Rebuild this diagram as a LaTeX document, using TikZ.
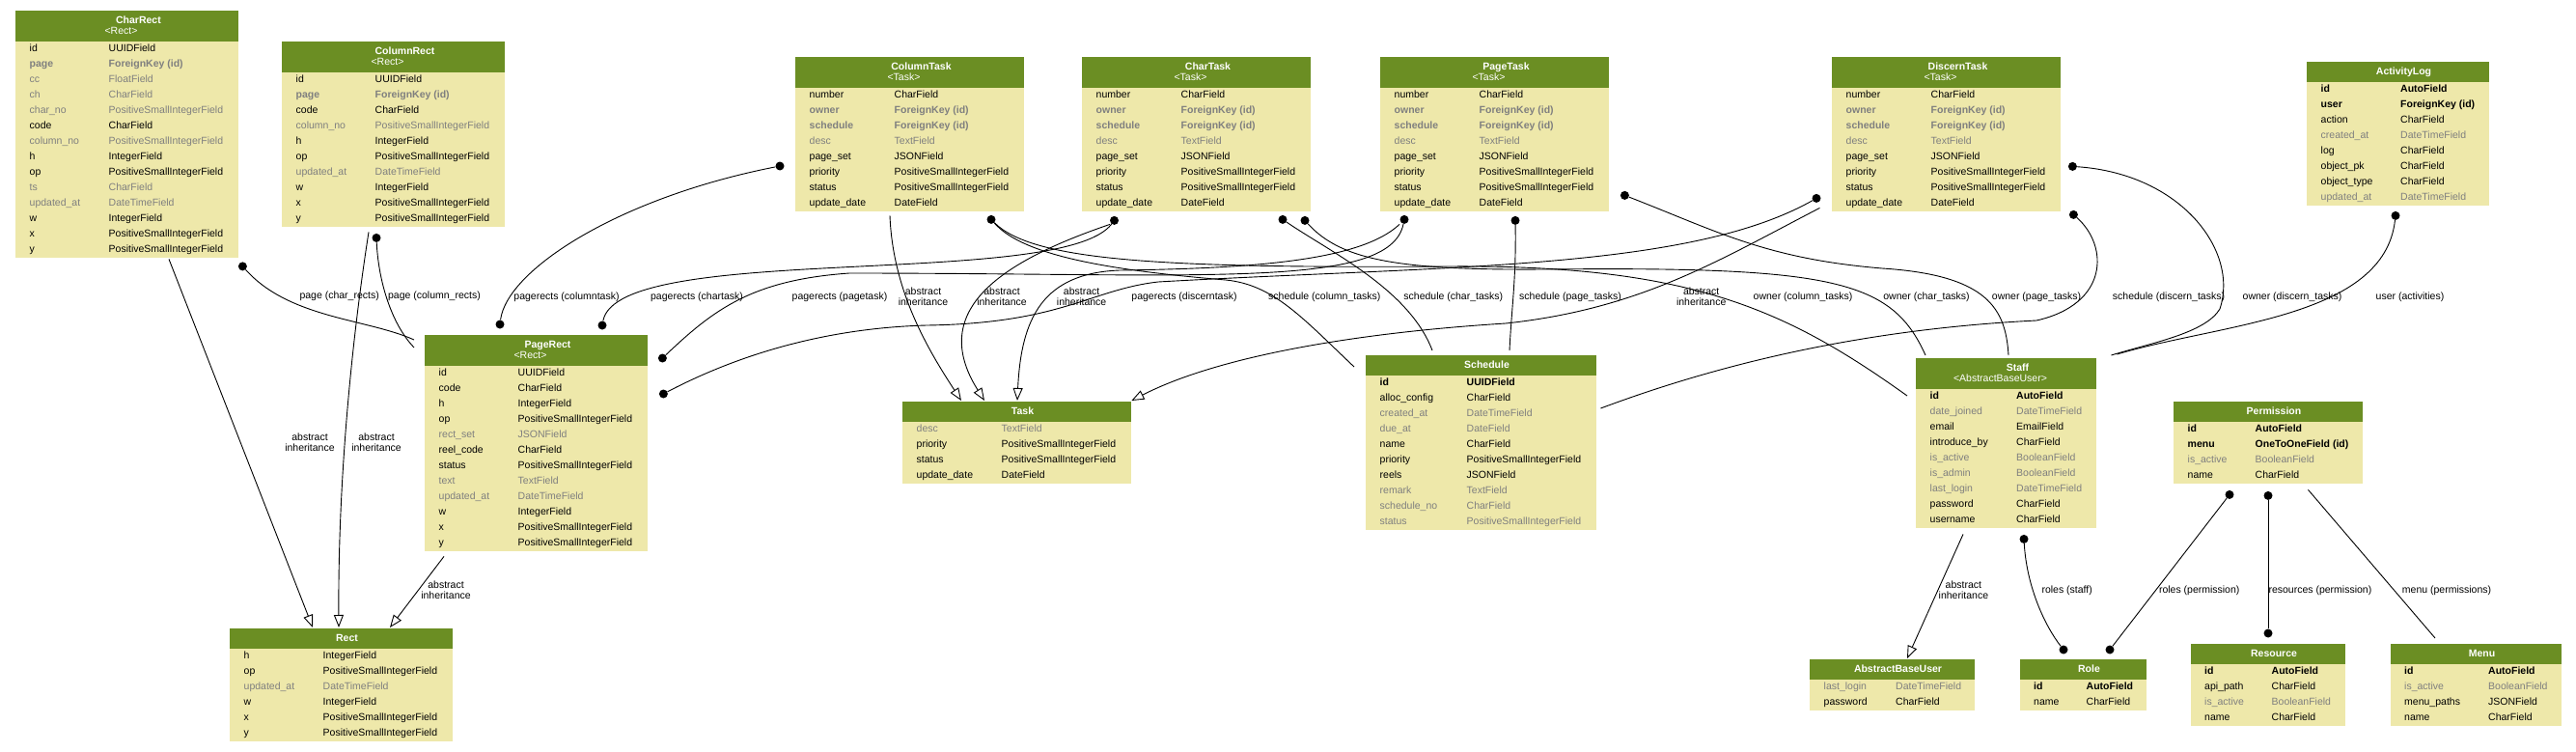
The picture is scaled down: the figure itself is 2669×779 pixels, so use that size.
\documentclass[tikz,border=0pt]{standalone}
\usepackage{fontspec}
\setmainfont{Liberation Sans}
\usepackage{xcolor}
\usepackage{tikz}
\usetikzlibrary{calc,arrows.meta}
\definecolor{headgreen}{HTML}{6B8E23}
\definecolor{bodyyellow}{HTML}{EEE8AA}
\definecolor{fieldgray}{HTML}{7F7F7F}
\begin{document}
\begin{tikzpicture}[x=1pt,y=-1pt]
\tikzstyle{every node}+=[inner sep=0pt, font=\fontsize{10.5}{11}\selectfont]
\tikzstyle{mbox}=[fill=bodyyellow, anchor=north west]
\tikzstyle{mhead}=[fill=headgreen, anchor=north west]
\tikzstyle{mtitle}=[anchor=base, text=white, font=\fontsize{10.5}{11}\selectfont\bfseries]
\tikzstyle{msub}=[anchor=base, text=white]
\tikzstyle{fld}=[anchor=base west, text=black]
\tikzstyle{fldg}=[anchor=base west, text=fieldgray]
\tikzstyle{fldfk}=[fldg, font=\fontsize{10.5}{11}\selectfont\bfseries]
\tikzstyle{fldkey}=[fld, font=\fontsize{10.5}{11}\selectfont\bfseries]
\tikzstyle{link}=[black, line width=0.9pt]
\tikzstyle{inh}=[-{Triangle[open,length=13pt,width=10pt]}]
\tikzstyle{fkdot}=[circle, fill=black, minimum size=9pt]
\tikzstyle{lbl}=[align=center]
\useasboundingbox (0,0) rectangle (2669,779);

\begin{scope}[shift={(16,11)}]
\node [mbox, minimum width=231pt, minimum height=256pt] (charrect) at (0,0) {};
\node [mhead, minimum width=231pt, minimum height=32pt] (charrect-h) at (0,0) {};
\node [mtitle] (charrect-t) at (127.5,13.5) {CharRect};
\node [msub] (charrect-s) at (109.5,24.5) {<Rect>};
\foreach \f/\t/\s [count=\i from 0] in {id/UUIDField/fld, page/ForeignKey (id)/fldfk, cc/FloatField/fldg, ch/CharField/fldg, char\_no/PositiveSmallIntegerField/fldg, code/CharField/fld, column\_no/PositiveSmallIntegerField/fldg, h/IntegerField/fld, op/PositiveSmallIntegerField/fld, ts/CharField/fldg, updated\_at/DateTimeField/fldg, w/IntegerField/fld, x/PositiveSmallIntegerField/fld, y/PositiveSmallIntegerField/fld}
{\node [\s] (charrect-a\i) at (14.5,42.5+16*\i) {\f};
 \node [\s] (charrect-b\i) at (96.5,42.5+16*\i) {\t};}
\end{scope}

\begin{scope}[shift={(292,43)}]
\node [mbox, minimum width=231pt, minimum height=192pt] (columnrect) at (0,0) {};
\node [mhead, minimum width=231pt, minimum height=32pt] (columnrect-h) at (0,0) {};
\node [mtitle] (columnrect-t) at (127.5,13.5) {ColumnRect};
\node [msub] (columnrect-s) at (109.5,24.5) {<Rect>};
\foreach \f/\t/\s [count=\i from 0] in {id/UUIDField/fld, page/ForeignKey (id)/fldfk, code/CharField/fld, column\_no/PositiveSmallIntegerField/fldg, h/IntegerField/fld, op/PositiveSmallIntegerField/fld, updated\_at/DateTimeField/fldg, w/IntegerField/fld, x/PositiveSmallIntegerField/fld, y/PositiveSmallIntegerField/fld}
{\node [\s] (columnrect-a\i) at (14.5,42.5+16*\i) {\f};
 \node [\s] (columnrect-b\i) at (96.5,42.5+16*\i) {\t};}
\end{scope}

\begin{scope}[shift={(440,347)}]
\node [mbox, minimum width=231pt, minimum height=224pt] (pagerect) at (0,0) {};
\node [mhead, minimum width=231pt, minimum height=32pt] (pagerect-h) at (0,0) {};
\node [mtitle] (pagerect-t) at (127.5,13.5) {PageRect};
\node [msub] (pagerect-s) at (109.5,24.5) {<Rect>};
\foreach \f/\t/\s [count=\i from 0] in {id/UUIDField/fld, code/CharField/fld, h/IntegerField/fld, op/PositiveSmallIntegerField/fld, rect\_set/JSONField/fldg, reel\_code/CharField/fld, status/PositiveSmallIntegerField/fld, text/TextField/fldg, updated\_at/DateTimeField/fldg, w/IntegerField/fld, x/PositiveSmallIntegerField/fld, y/PositiveSmallIntegerField/fld}
{\node [\s] (pagerect-a\i) at (14.5,42.5+16*\i) {\f};
 \node [\s] (pagerect-b\i) at (96.5,42.5+16*\i) {\t};}
\end{scope}

\begin{scope}[shift={(238,651)}]
\node [mbox, minimum width=231pt, minimum height=117pt] (rect) at (0,0) {};
\node [mhead, minimum width=231pt, minimum height=21pt] (rect-h) at (0,0) {};
\node [mtitle] (rect-t) at (121.5,13) {Rect};
\foreach \f/\t/\s [count=\i from 0] in {h/IntegerField/fld, op/PositiveSmallIntegerField/fld, updated\_at/DateTimeField/fldg, w/IntegerField/fld, x/PositiveSmallIntegerField/fld, y/PositiveSmallIntegerField/fld}
{\node [\s] (rect-a\i) at (14.5,31.5+16*\i) {\f};
 \node [\s] (rect-b\i) at (96.5,31.5+16*\i) {\t};}
\end{scope}

\foreach \n/\m/\x in {columntask/ColumnTask/824, chartask/CharTask/1121, pagetask/PageTask/1430, discerntask/DiscernTask/1898}
{
\begin{scope}[shift={(\x,59)}]
\node [mbox, minimum width=237pt, minimum height=160pt] (\n) at (0,0) {};
\node [mhead, minimum width=237pt, minimum height=32pt] (\n-h) at (0,0) {};
\node [mtitle] (\n-t) at (130.5,13.5) {\m};
\node [msub] (\n-s) at (112.5,24.5) {<Task>};
\foreach \f/\t/\s [count=\i from 0] in {number/CharField/fld, owner/ForeignKey (id)/fldfk, schedule/ForeignKey (id)/fldfk, desc/TextField/fldg, page\_set/JSONField/fld, priority/PositiveSmallIntegerField/fld, status/PositiveSmallIntegerField/fld, update\_date/DateField/fld}
{\node [\s] (\n-a\i) at (14.5,42.5+16*\i) {\f};
 \node [\s] (\n-b\i) at (102.5,42.5+16*\i) {\t};}
\end{scope}
}

\begin{scope}[shift={(935,416)}]
\node [mbox, minimum width=237pt, minimum height=85pt] (task) at (0,0) {};
\node [mhead, minimum width=237pt, minimum height=21pt] (task-h) at (0,0) {};
\node [mtitle] (task-t) at (124.5,13) {Task};
\foreach \f/\t/\s [count=\i from 0] in {desc/TextField/fldg, priority/PositiveSmallIntegerField/fld, status/PositiveSmallIntegerField/fld, update\_date/DateField/fld}
{\node [\s] (task-a\i) at (14.5,31.5+16*\i) {\f};
 \node [\s] (task-b\i) at (102.5,31.5+16*\i) {\t};}
\end{scope}

\begin{scope}[shift={(1415,368)}]
\node [mbox, minimum width=239pt, minimum height=181pt] (schedule) at (0,0) {};
\node [mhead, minimum width=239pt, minimum height=21pt] (schedule-h) at (0,0) {};
\node [mtitle] (schedule-t) at (125.5,13) {Schedule};
\foreach \f/\t/\s [count=\i from 0] in {id/UUIDField/fldkey, alloc\_config/CharField/fld, created\_at/DateTimeField/fldg, due\_at/DateField/fldg, name/CharField/fld, priority/PositiveSmallIntegerField/fld, reels/JSONField/fld, remark/TextField/fldg, schedule\_no/CharField/fldg, status/PositiveSmallIntegerField/fldg}
{\node [\s] (schedule-a\i) at (14.5,31.5+16*\i) {\f};
 \node [\s] (schedule-b\i) at (104.5,31.5+16*\i) {\t};}
\end{scope}

\begin{scope}[shift={(1985,371)}]
\node [mbox, minimum width=187pt, minimum height=176pt] (staff) at (0,0) {};
\node [mhead, minimum width=187pt, minimum height=32pt] (staff-h) at (0,0) {};
\node [mtitle] (staff-t) at (105.5,13.5) {Staff};
\node [msub] (staff-s) at (87.5,24.5) {<AbstractBaseUser>};
\foreach \f/\t/\s [count=\i from 0] in {id/AutoField/fldkey, date\_joined/DateTimeField/fldg, email/EmailField/fld, introduce\_by/CharField/fld, is\_active/BooleanField/fldg, is\_admin/BooleanField/fldg, last\_login/DateTimeField/fldg, password/CharField/fld, username/CharField/fld}
{\node [\s] (staff-a\i) at (14.5,42.5+16*\i) {\f};
 \node [\s] (staff-b\i) at (104,42.5+16*\i) {\t};}
\end{scope}

\begin{scope}[shift={(2390,64)}]
\node [mbox, minimum width=189pt, minimum height=149pt] (activitylog) at (0,0) {};
\node [mhead, minimum width=189pt, minimum height=21pt] (activitylog-h) at (0,0) {};
\node [mtitle] (activitylog-t) at (100.5,13) {ActivityLog};
\foreach \f/\t/\s [count=\i from 0] in {id/AutoField/fldkey, user/ForeignKey (id)/fldkey, action/CharField/fld, created\_at/DateTimeField/fldg, log/CharField/fld, object\_pk/CharField/fld, object\_type/CharField/fld, updated\_at/DateTimeField/fldg}
{\node [\s] (activitylog-a\i) at (14.5,31.5+16*\i) {\f};
 \node [\s] (activitylog-b\i) at (97,31.5+16*\i) {\t};}
\end{scope}

\begin{scope}[shift={(2252,416)}]
\node [mbox, minimum width=196pt, minimum height=85pt] (permission) at (0,0) {};
\node [mhead, minimum width=196pt, minimum height=21pt] (permission-h) at (0,0) {};
\node [mtitle] (permission-t) at (104,13) {Permission};
\foreach \f/\t/\s [count=\i from 0] in {id/AutoField/fldkey, menu/OneToOneField (id)/fldkey, is\_active/BooleanField/fldg, name/CharField/fld}
{\node [\s] (permission-a\i) at (14.5,31.5+16*\i) {\f};
 \node [\s] (permission-b\i) at (84.5,31.5+16*\i) {\t};}
\end{scope}

\begin{scope}[shift={(1875,683)}]
\node [mbox, minimum width=171pt, minimum height=53pt] (abu) at (0,0) {};
\node [mhead, minimum width=171pt, minimum height=21pt] (abu-h) at (0,0) {};
\node [mtitle] (abu-t) at (91.5,13) {AbstractBaseUser};
\foreach \f/\t/\s [count=\i from 0] in {last\_login/DateTimeField/fldg, password/CharField/fld}
{\node [\s] (abu-a\i) at (14.5,31.5+16*\i) {\f};
 \node [\s] (abu-b\i) at (89,31.5+16*\i) {\t};}
\end{scope}

\begin{scope}[shift={(2093,683)}]
\node [mbox, minimum width=131pt, minimum height=53pt] (role) at (0,0) {};
\node [mhead, minimum width=131pt, minimum height=21pt] (role-h) at (0,0) {};
\node [mtitle] (role-t) at (71.5,13) {Role};
\foreach \f/\t/\s [count=\i from 0] in {id/AutoField/fldkey, name/CharField/fld}
{\node [\s] (role-a\i) at (14,31.5+16*\i) {\f};
 \node [\s] (role-b\i) at (68.5,31.5+16*\i) {\t};}
\end{scope}

\begin{scope}[shift={(2270,667)}]
\node [mbox, minimum width=160pt, minimum height=85pt] (resource) at (0,0) {};
\node [mhead, minimum width=160pt, minimum height=21pt] (resource-h) at (0,0) {};
\node [mtitle] (resource-t) at (86,13) {Resource};
\foreach \f/\t/\s [count=\i from 0] in {id/AutoField/fldkey, api\_path/CharField/fld, is\_active/BooleanField/fldg, name/CharField/fld}
{\node [\s] (resource-a\i) at (14,31.5+16*\i) {\f};
 \node [\s] (resource-b\i) at (83.5,31.5+16*\i) {\t};}
\end{scope}

\begin{scope}[shift={(2477,667)}]
\node [mbox, minimum width=177pt, minimum height=85pt] (menu) at (0,0) {};
\node [mhead, minimum width=177pt, minimum height=21pt] (menu-h) at (0,0) {};
\node [mtitle] (menu-t) at (94.5,13) {Menu};
\foreach \f/\t/\s [count=\i from 0] in {id/AutoField/fldkey, is\_active/BooleanField/fldg, menu\_paths/JSONField/fld, name/CharField/fld}
{\node [\s] (menu-a\i) at (14,31.5+16*\i) {\f};
 \node [\s] (menu-b\i) at (101,31.5+16*\i) {\t};}
\end{scope}

\node [fkdot] (crpage) at ($(charrect.south east)+(4,8.5)$) {};
\node [fkdot] (colpage) at ($(columnrect.south west)+(98,11)$) {};
\node [fkdot] (ctpr) at ($(columntask.north west)+(-16,113)$) {};
\node [fkdot] (prct) at ($(pagerect.north west)+(78,-11)$) {};
\node [fkdot] (prch) at ($(pagerect.north west)+(184,-10)$) {};
\node [fkdot] (prpt) at ($(pagerect.north east)+(15,24)$) {};
\node [fkdot] (prdt) at ($(pagerect.north east)+(16,61)$) {};
\node [fkdot] (chpr) at ($(chartask.south west)+(33.5,9)$) {};
\node [fkdot] (ctfk) at ($(columntask.south west)+(203,8)$) {};
\node [fkdot] (chsch) at ($(chartask.south west)+(208,8)$) {};
\node [fkdot] (chown) at ($(chartask.south west)+(231,9)$) {};
\node [fkdot] (ptpr) at ($(pagetask.south west)+(25,8)$) {};
\node [fkdot] (ptsch) at ($(pagetask.south west)+(140,9)$) {};
\node [fkdot] (ptown) at ($(pagetask.south east)+(16,-17)$) {};
\node [fkdot] (dtpr) at ($(discerntask.south west)+(-16,-14)$) {};
\node [fkdot] (dtown) at ($(discerntask.south east)+(12,-47)$) {};
\node [fkdot] (dtsch) at ($(discerntask.south east)+(13,3)$) {};
\node [fkdot] (aluser) at ($(activitylog.south west)+(92,10)$) {};
\node [fkdot] (strole) at ($(staff.south west)+(112,11)$) {};
\node [fkdot] (rolest) at ($(role.north west)+(45,-10)$) {};
\node [fkdot] (rolepm) at ($(role.north west)+(93,-10)$) {};
\node [fkdot] (pmrole) at ($(permission.south west)+(58,11)$) {};
\node [fkdot] (pmres) at ($(permission.south west)+(98,12)$) {};
\node [fkdot] (respm) at ($(resource.north west)+(80,-11)$) {};

\draw [link,inh] ($(charrect.south west)+(159,1)$) -- ($(rect.north west)+(86,-1)$);
\draw [link,inh] ($(columnrect.south west)+(90,5)$) .. controls (368,330) and (350,480) .. ($(rect.north west)+(113,-1)$);
\draw [link,inh] ($(pagerect.south west)+(20,5)$) -- ($(rect.north west)+(166,-1)$);
\draw [link] (crpage) .. controls (300,330) and (380,330) .. ($(pagerect.north west)+(-11,5)$);
\draw [link] (colpage) .. controls (392,290) and (405,335) .. ($(pagerect.north west)+(-11,13)$);
\draw [link] (prct) .. controls (525,280) and (640,205) .. (ctpr);
\draw [link] (prch) .. controls (640,250) and (1100,300) .. (chpr);
\draw [link] (prpt) .. controls (740,320) and (780,290) .. (880,283) .. controls (1250,283) and (1440,300) .. (ptpr);
\draw [link] (prdt) .. controls (760,370) and (850,340) .. (960,337) .. controls (1100,335) and (1130,300) .. (1200,292) .. controls (1500,275) and (1750,280) .. (dtpr);
\draw [link,inh] ($(columntask.south west)+(98,4)$) .. controls (925,300) and (960,360) .. ($(task.north west)+(61,-1)$);
\draw [link,inh] ($(chartask.south west)+(29,13)$) .. controls (1040,270) and (960,320) .. ($(task.north west)+(85,-1)$);
\draw [link,inh] ($(pagetask.south west)+(20,13)$) .. controls (1410,270) and (1300,278) .. (1160,280) .. controls (1080,283) and (1058,330) .. ($(task.north west)+(119,-1)$);
\draw [link,inh] ($(discerntask.south west)+(-12.5,-4)$) .. controls (1780,270) and (1700,320) .. (1560,335) .. controls (1400,345) and (1260,370) .. ($(task.north east)+(0,-1)$);
\draw [link] (ctfk) .. controls (1060,265) and (1150,280) .. (1270,290) .. controls (1320,295) and (1350,330) .. ($(schedule.north west)+(-12,12)$);
\draw [link] (ctfk) .. controls (1070,270) and (1200,278) .. (1500,276) .. controls (1750,274) and (1850,320) .. ($(staff.north west)+(-9,39)$);
\draw [link] (chsch) .. controls (1380,262) and (1460,300) .. ($(schedule.north west)+(69,-5)$);
\draw [link] (chown) .. controls (1390,270) and (1450,280) .. (1600,279) .. controls (1900,276) and (1960,290) .. ($(staff.north west)+(10,-3)$);
\draw [link] (ptsch) .. controls (1571,290) and (1566,320) .. ($(schedule.north west)+(149,-5)$);
\draw [link] (ptown) .. controls (1780,240) and (1830,268) .. (1950,278) .. controls (2060,285) and (2078,320) .. ($(staff.north west)+(96,-3)$);
\draw [link] (dtsch) .. controls (2185,255) and (2185,315) .. (2110,332) .. controls (1950,340) and (1800,370) .. ($(schedule.north east)+(4,55)$);
\draw [link] (dtown) .. controls (2260,180) and (2320,260) .. (2300,320) .. controls (2285,345) and (2230,355) .. ($(staff.north east)+(15,-3)$);
\draw [link] (aluser) .. controls (2470,330) and (2300,335) .. ($(staff.north east)+(21,-4)$);
\draw [link,inh] ($(staff.south west)+(49,6)$) -- ($(abu.north west)+(101,-1)$);
\draw [link] (strole) .. controls (2100,610) and (2120,650) .. (rolest);
\draw [link] (pmrole) -- (rolepm);
\draw [link] (pmres) -- (respm);
\draw [link] ($(permission.south west)+(139.5,6)$) -- ($(menu.north west)+(46,-6)$);

\node [lbl] (l-crinh) at (321,458) {abstract\\inheritance};
\node [lbl] (l-colinh) at (390,458) {abstract\\inheritance};
\node [lbl] (l-prinh) at (462,611) {abstract\\inheritance};
\node [lbl] (l-crpage) at (351.7,307) {page (char\_rects)};
\node [lbl] (l-colpage) at (450,307) {page (column\_rects)};
\node [lbl] (l-prct) at (587,307.7) {pagerects (columntask)};
\node [lbl] (l-prch) at (722,307.7) {pagerects (chartask)};
\node [lbl] (l-prpt) at (870,307.7) {pagerects (pagetask)};
\node [lbl] (l-ctinh) at (956.5,307) {abstract\\inheritance};
\node [lbl] (l-chinh) at (1038,307) {abstract\\inheritance};
\node [lbl] (l-ptinh) at (1120.6,307) {abstract\\inheritance};
\node [lbl] (l-prdt) at (1227,307.7) {pagerects (discerntask)};
\node [lbl] (l-ctsch) at (1372.3,307.7) {schedule (column\_tasks)};
\node [lbl] (l-chsch) at (1505.8,307.7) {schedule (char\_tasks)};
\node [lbl] (l-ptsch) at (1627,307.7) {schedule (page\_tasks)};
\node [lbl] (l-dtinh) at (1762.7,307) {abstract\\inheritance};
\node [lbl] (l-ctown) at (1868,307.7) {owner (column\_tasks)};
\node [lbl] (l-chown) at (1996,307.7) {owner (char\_tasks)};
\node [lbl] (l-ptown) at (2110,307.7) {owner (page\_tasks)};
\node [lbl] (l-dtsch) at (2247,307.7) {schedule (discern\_tasks)};
\node [lbl] (l-dtown) at (2375,307.7) {owner (discern\_tasks)};
\node [lbl] (l-aluser) at (2497,307.7) {user (activities)};
\node [lbl] (l-stinh) at (2034.4,611) {abstract\\inheritance};
\node [lbl] (l-rolest) at (2141.7,611.3) {roles (staff)};
\node [lbl] (l-rolepm) at (2278.7,611.3) {roles (permission)};
\node [lbl] (l-respm) at (2403.9,611.3) {resources (permission)};
\node [lbl] (l-menu) at (2535,611.3) {menu (permissions)};
\end{tikzpicture}
\end{document}
